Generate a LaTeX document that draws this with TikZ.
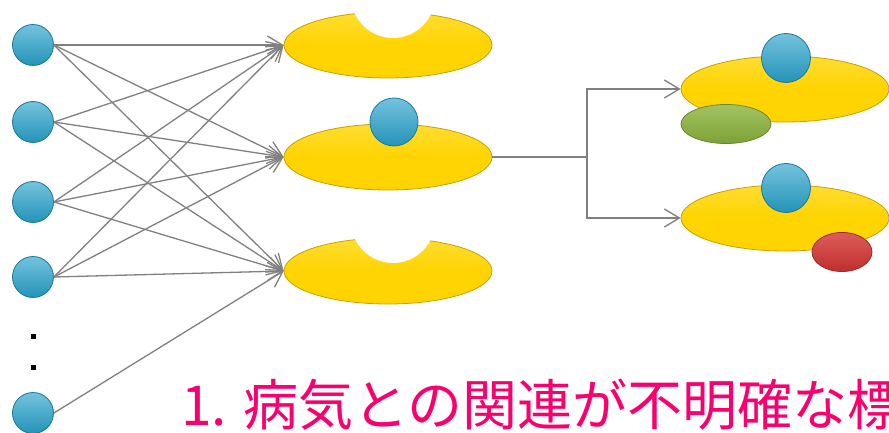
\documentclass[tikz,border=0pt]{standalone}
\usepackage{fontspec}
\newfontfamily\jpfont{Noto Sans CJK JP}
\usepackage{tikz}
\usetikzlibrary{shapes.geometric,arrows.meta}
\definecolor{ballblue}{RGB}{40,163,204}
\definecolor{ballrim}{RGB}{25,120,160}
\definecolor{cellgold}{RGB}{255,212,0}
\definecolor{cellrim}{RGB}{200,160,0}
\definecolor{tagred}{RGB}{212,52,50}
\definecolor{taggreen}{RGB}{140,180,60}
\definecolor{linkgray}{RGB}{128,128,128}
\definecolor{captionpink}{RGB}{250,0,110}

\begin{document}
\begin{tikzpicture}[x=1pt,y=-1pt,
        ball/.style={circle,draw=ballrim,line width=0.8pt,top color=ballblue!65!white,bottom color=ballblue!90!black,minimum size=44pt,inner sep=0pt},
        cell/.style={ellipse,draw=cellrim,line width=0.8pt,top color=cellgold!80!white,bottom color=cellgold,middle color=cellgold,minimum width=208pt,minimum height=66pt,inner sep=0pt},
        tag/.style={ellipse,line width=0.8pt,inner sep=0pt},
        link/.style={draw=linkgray,line width=1.3pt,-{Straight Barb[length=15pt,width=18pt,line width=1.3pt]}},
        dotmark/.style={rectangle,fill=black,minimum size=5pt,inner sep=0pt}]
        \useasboundingbox (0,0) rectangle (889,433);
        \clip (0,0) rectangle (889,433);

        \foreach \i/\y in {1/45,2/122,3/202,4/277,5/413}
            \node[ball,minimum size=41pt] (in\i) at (33,\y) {};
        \node[dotmark] (dotA) at (33.5,336) {};
        \node[dotmark] (dotB) at (33.5,367) {};

        \node[cell] (cellA) at (388,45) {};
        \node[cell] (cellB) at (388,157) {};
        \node[cell] (cellC) at (388,271) {};
        \begin{scope}
            \clip (270,10) rectangle (510,80);
            \fill[white] (393,-4) circle (42);
        \end{scope}
        \begin{scope}
            \clip (270,236) rectangle (510,306);
            \fill[white] (393,221) circle (42);
        \end{scope}
        \node[ball,minimum size=48pt] (hitB) at (394,122) {};

        \foreach \i in {1,...,4}
            \foreach \j in {A,B,C}
                \draw[link] (in\i.east) -- (cell\j.west);
        \draw[link] (in5.east) -- (cellC.west);

        \node[cell] (outA) at (785,89) {};
        \node[ball,minimum size=49pt] (hitA) at (786,58) {};
        \node[tag,draw=taggreen!75!black,top color=taggreen!80!white,bottom color=taggreen!90!black,minimum width=90pt,minimum height=39pt] (greenA) at (726,124) {};
        \node[cell] (outB) at (785,218) {};
        \node[ball,minimum size=49pt] (hitC) at (786,188) {};
        \node[tag,draw=tagred!75!black,top color=tagred!80!white,bottom color=tagred!90!black,minimum width=60pt,minimum height=39pt] (redB) at (842,252) {};

        \draw[draw=linkgray,line width=1.3pt] (cellB.east) -- (587,157) coordinate (split);
        \draw[link] (split) |- (outA.west);
        \draw[link] (split) |- (outB.west);

        \node[anchor=base west,inner sep=0pt,text=captionpink,font=\jpfont\fontsize{55}{64}\selectfont] (caption) at (181,425) {1. 病気との関連が不明確な標};
    \end{tikzpicture}
\end{document}
